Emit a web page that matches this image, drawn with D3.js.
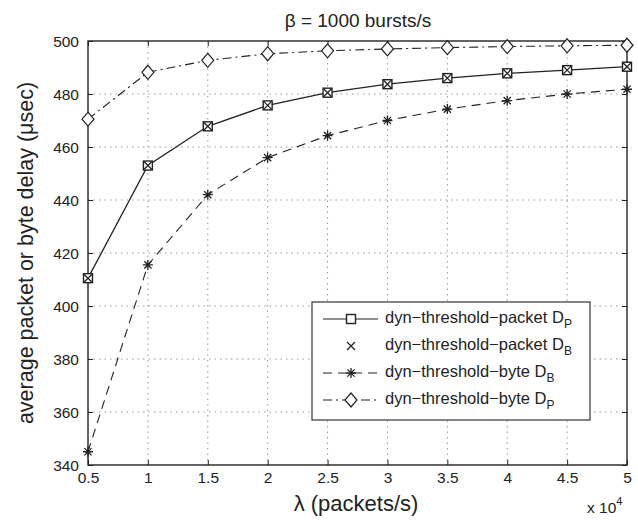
<!DOCTYPE html>
<html>
<head>
<meta charset="utf-8">
<script src="https://cdn.jsdelivr.net/npm/d3@7"></script>
<style>
  body { margin: 0; background: #fff; }
  svg text { font-family: "Liberation Sans", Arial, sans-serif; fill: #222; }
  .grid line { stroke: #999; stroke-dasharray: 1.5 4; }
</style>
</head>
<body>
<div id="graphic"></div>
<script>
var lambda = [0.5, 1, 1.5, 2, 2.5, 3, 3.5, 4, 4.5, 5];
var packetDP = [410.5, 453, 467.8, 475.7, 480.5, 483.7, 486, 487.8, 489, 490.3];
var packetDB = [410.5, 453, 467.8, 475.7, 480.5, 483.7, 486, 487.8, 489, 490.3];
var byteDB = [345, 415.5, 442, 456, 464.3, 470, 474.3, 477.5, 480, 481.8];
var byteDP = [470.5, 488.2, 492.7, 495.2, 496.3, 497, 497.5, 497.9, 498.2, 498.4];
var xTicks = [0.5, 1, 1.5, 2, 2.5, 3, 3.5, 4, 4.5, 5];
var yTicks = [340, 360, 380, 400, 420, 440, 460, 480, 500];
var legendLabels = ["dyn\u2212threshold\u2212packet D", "dyn\u2212threshold\u2212packet D", "dyn\u2212threshold\u2212byte D", "dyn\u2212threshold\u2212byte D"];
var legendSubs = ["P", "B", "B", "P"];

var width = 638, height = 521;
var margin = {top: 41, right: 11, bottom: 56, left: 88};
var w = width - margin.left - margin.right;
var h = height - margin.top - margin.bottom;

var svg = d3.select("#graphic").append("svg")
  .attr("width", width).attr("height", height);
var g = svg.append("g").attr("transform", "translate(" + margin.left + "," + margin.top + ")");

var x = d3.scaleLinear().domain([0.5, 5]).range([0, w]);
var y = d3.scaleLinear().domain([340, 500]).range([h, 0]);

// grid
g.append("g").attr("class", "grid")
  .selectAll("line.v").data(xTicks.slice(1, -1)).join("line")
  .attr("x1", d => x(d)).attr("x2", d => x(d)).attr("y1", 0).attr("y2", h);
g.append("g").attr("class", "grid")
  .selectAll("line.h").data(yTicks.slice(1, -1)).join("line")
  .attr("y1", d => y(d)).attr("y2", d => y(d)).attr("x1", 0).attr("x2", w);

// axes
var xAxis = d3.axisBottom(x).tickValues(xTicks).tickSize(-5).tickPadding(7).tickFormat(d3.format("~g"));
var yAxis = d3.axisLeft(y).tickValues(yTicks).tickSize(-5).tickPadding(9);
var gx = g.append("g").attr("transform", "translate(0," + h + ")").call(xAxis);
var gy = g.append("g").call(yAxis);
g.append("g").call(d3.axisTop(x).tickValues(xTicks).tickSize(-5).tickFormat(""));
g.append("g").attr("transform", "translate(" + w + ",0)").call(d3.axisRight(y).tickValues(yTicks).tickSize(-5).tickFormat(""));
g.selectAll(".domain").remove();
g.selectAll(".tick line").attr("stroke", "#222");
g.selectAll(".tick text").style("font-size", "15.5px");
gy.selectAll(".tick text").attr("dy", "0.35em");
g.append("rect").attr("width", w).attr("height", h)
  .attr("fill", "none").attr("stroke", "#222").attr("stroke-width", 1.4);

var line = d3.line().x((d, i) => x(lambda[i])).y(d => y(d));

// series lines
g.append("path").datum(byteDP).attr("d", line).attr("fill", "none")
  .attr("stroke", "#222").attr("stroke-width", 1.1).attr("stroke-dasharray", "9 4 2 4");
g.append("path").datum(byteDB).attr("d", line).attr("fill", "none")
  .attr("stroke", "#222").attr("stroke-width", 1.1).attr("stroke-dasharray", "9 6");
g.append("path").datum(packetDP).attr("d", line).attr("fill", "none")
  .attr("stroke", "#222").attr("stroke-width", 1.3);

// markers
function square(sel) {
  sel.append("rect").attr("x", -4.5).attr("y", -4.5).attr("width", 9).attr("height", 9)
    .attr("fill", "#fff").attr("stroke", "#222").attr("stroke-width", 1.4);
}
function cross(sel) {
  sel.append("path").attr("d", "M-4,-4L4,4M-4,4L4,-4").attr("stroke", "#222").attr("stroke-width", 1.3);
}
function star(sel) {
  sel.append("path").attr("d", "M-5,0L5,0M0,-5L0,5M-3.6,-3.6L3.6,3.6M-3.6,3.6L3.6,-3.6")
    .attr("stroke", "#222").attr("stroke-width", 1.3);
}
function diamond(sel) {
  sel.append("path").attr("d", "M0,-7L6,0L0,7L-6,0Z").attr("fill", "#fff")
    .attr("stroke", "#222").attr("stroke-width", 1.2);
}

function markers(data, fn) {
  g.append("g").selectAll("g").data(data).join("g")
    .attr("transform", (d, i) => "translate(" + x(lambda[i]) + "," + y(d) + ")")
    .each(function() { fn(d3.select(this)); });
}
markers(byteDP, diamond);
markers(byteDB, star);
markers(packetDP, square);
markers(packetDB, cross);

// legend
var lg = svg.append("g").attr("transform", "translate(312,302)");
lg.append("rect").attr("width", 278).attr("height", 118)
  .attr("fill", "#fff").attr("stroke", "#222").attr("stroke-width", 1.1);
var styles = [
  {dash: null, fn: square, line: true},
  {dash: null, fn: cross, line: false},
  {dash: "9 6", fn: star, line: true},
  {dash: "9 4 2 4", fn: diamond, line: true}
];
var items = lg.selectAll("g.item").data(legendLabels).join("g")
  .attr("transform", (d, i) => "translate(0," + (17 + i * 27) + ")");
items.each(function(d, i) {
  var it = d3.select(this);
  if (styles[i].line) {
    it.append("line").attr("x1", 11).attr("x2", 66).attr("stroke", "#222")
      .attr("stroke-width", 1.2).attr("stroke-dasharray", styles[i].dash);
  }
  var m = it.append("g").attr("transform", "translate(39,0)");
  styles[i].fn(m);
  var t = it.append("text").attr("x", 73).attr("y", 4).style("font-size", "16.5px");
  t.append("tspan").text(d);
  t.append("tspan").attr("dy", 5).style("font-size", "12px").text(legendSubs[i]);
});

// titles
svg.append("text").attr("x", 358).attr("y", 27).attr("text-anchor", "middle")
  .style("font-size", "19px").text("\u03b2 = 1000 bursts/s");
svg.append("text").attr("transform", "translate(33," + (margin.top + h / 2) + ") rotate(-90)")
  .attr("text-anchor", "middle").style("font-size", "21.5px")
  .text("average packet or byte delay (\u03bcsec)");
svg.append("text").attr("x", 356).attr("y", 511).attr("text-anchor", "middle")
  .style("font-size", "22px").text("\u03bb (packets/s)");
var ex = svg.append("text").attr("x", 587).attr("y", 513).style("font-size", "15.5px");
ex.append("tspan").text("x 10");
ex.append("tspan").attr("dy", -8).style("font-size", "11px").text("4");
</script>
</body>
</html>
